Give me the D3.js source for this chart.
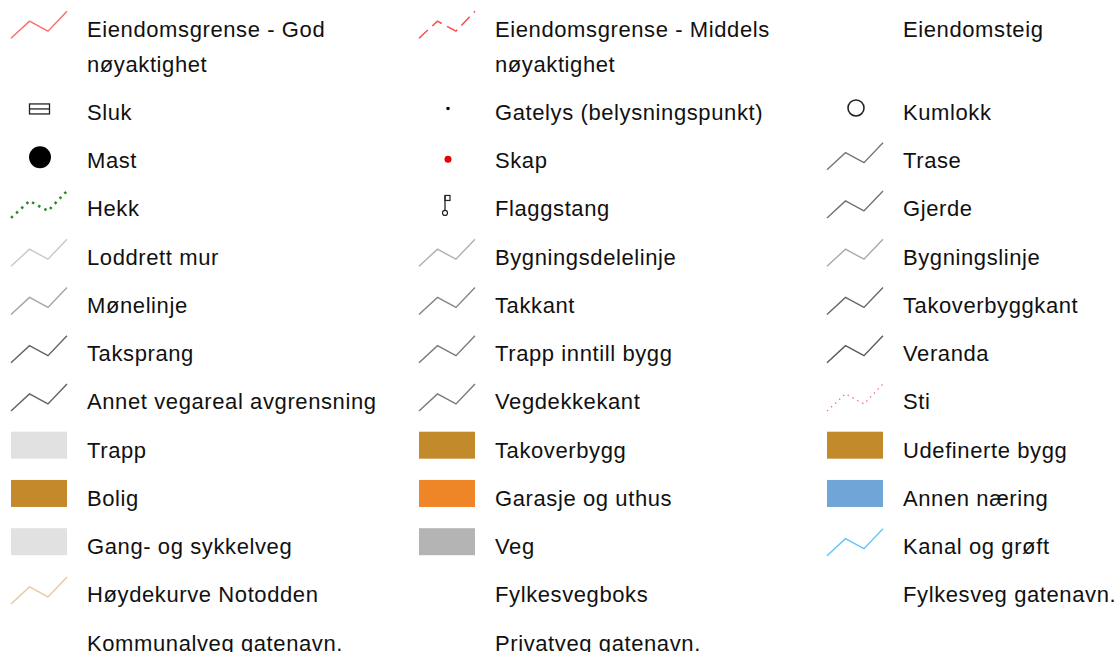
<!DOCTYPE html>
<meta charset="utf-8">
<style>
html, body { margin: 0; padding: 0; background: #fff; }
svg { display: block; }
.label { font-family: "Liberation Sans", Arial, Helvetica, sans-serif; font-size: 22px; letter-spacing: 0.6px; fill: #111; }
</style>
<svg id="legend"></svg>
<script src="https://cdn.jsdelivr.net/npm/d3@7"></script>
<script>

var width = 1118;
var height = 652;

// legend entries, read row by row (three per row)
var labels = [
  'Eiendomsgrense - God nøyaktighet', 'Eiendomsgrense - Middels nøyaktighet', 'Eiendomsteig',
  'Sluk', 'Gatelys (belysningspunkt)', 'Kumlokk',
  'Mast', 'Skap', 'Trase',
  'Hekk', 'Flaggstang', 'Gjerde',
  'Loddrett mur', 'Bygningsdelelinje', 'Bygningslinje',
  'Mønelinje', 'Takkant', 'Takoverbyggkant',
  'Taksprang', 'Trapp inntill bygg', 'Veranda',
  'Annet vegareal avgrensning', 'Vegdekkekant', 'Sti',
  'Trapp', 'Takoverbygg', 'Udefinerte bygg',
  'Bolig', 'Garasje og uthus', 'Annen næring',
  'Gang- og sykkelveg', 'Veg', 'Kanal og grøft',
  'Høydekurve Notodden', 'Fylkesvegboks', 'Fylkesveg gatenavn.',
  'Kommunalveg gatenavn.', 'Privatveg gatenavn.'
];

var kinds = [
  'line', 'line', 'none',
  'sluk', 'gatelys', 'kumlokk',
  'mast', 'skap', 'line',
  'line', 'flagg', 'line',
  'line', 'line', 'line',
  'line', 'line', 'line',
  'line', 'line', 'line',
  'line', 'line', 'line',
  'rect', 'rect', 'rect',
  'rect', 'rect', 'rect',
  'rect', 'rect', 'line',
  'line', 'none', 'none',
  'none', 'none'
];

var symbolColors = [
  '#ff6a6a', '#ff4a4a', null,
  '#222', '#000', '#222',
  '#000', '#ee0000', '#777777',
  '#2a8a2a', '#222', '#727272',
  '#c8c8c8', '#b0b0b0', '#aaaaaa',
  '#a4a4a4', '#858585', '#686868',
  '#646464', '#7a7a7a', '#5a5a5a',
  '#626262', '#7a7a7a', '#f07585',
  '#e1e1e1', '#c38a2c', '#c38a2c',
  '#c3892a', '#ee8627', '#70a5d8',
  '#e1e1e1', '#b4b4b4', '#5cc6ff',
  '#e8c9a0', null, null,
  null, null
];

// dashed / dotted line entries
var dashStyles = {
  'Eiendomsgrense - Middels nøyaktighet': {dash: '12,6', w: 1.5},
  'Hekk': {dash: '2.5,4.5', w: 2.5},
  'Sti': {dash: '1.5,4', w: 1.3}
};

// zigzag glyph used for line entries (unit box)
var zigzag = [[0, 0], [0.33, 0.63], [0.66, 0.26], [1, 1]];

var nCols = 3;
var col = d3.scalePoint().domain(d3.range(nCols)).range([0, 816]);
var textX = 87;
var rowStep = 48.25;
var lineStep = 35;
var maxTextWidth = 320;

var svg = d3.select('#legend')
  .attr('width', width)
  .attr('height', height);

var items = labels.map(function (l, i) {
  return {label: l, kind: kinds[i], color: symbolColors[i], col: i % nCols, row: Math.floor(i / nCols)};
});

var g = svg.selectAll('g.item')
  .data(items)
  .enter().append('g')
  .attr('class', 'item');

// text first, wrapped, to know the height of each row
var text = g.append('text')
  .attr('class', 'label')
  .attr('x', function (d) { return col(d.col) + textX; });

text.each(function (d) {
  var t = d3.select(this);
  var words = d.label.split(' ');
  var lines = [];
  var cur = [];
  var probe = t.append('tspan');
  words.forEach(function (w) {
    var test = cur.concat([w]).join(' ');
    probe.text(test);
    if (probe.node().getComputedTextLength() > maxTextWidth && cur.length) {
      lines.push(cur.join(' '));
      cur = [w];
    } else {
      cur.push(w);
    }
  });
  lines.push(cur.join(' '));
  probe.remove();
  d.lines = lines;
});

var nRows = d3.max(items, function (d) { return d.row; }) + 1;
var baselines = [];
var y = 36.7;
for (var r = 0; r < nRows; r++) {
  baselines.push(y);
  var nLines = d3.max(items.filter(function (d) { return d.row === r; }), function (d) { return d.lines.length; });
  y += rowStep + (nLines - 1) * lineStep;
}
items.forEach(function (d) { d.base = baselines[d.row]; d.x0 = col(d.col); });

text.attr('y', function (d) { return d.base; })
  .selectAll('tspan')
  .data(function (d) { return d.lines.map(function (l, k) { return {t: l, k: k, x: d.x0 + textX, base: d.base}; }); })
  .enter().append('tspan')
  .attr('x', function (d) { return d.x; })
  .attr('y', function (d) { return d.base + d.k * lineStep; })
  .text(function (d) { return d.t; });

// symbols
g.each(function (d) {
  var s = d3.select(this);
  var x0 = d.x0, b = d.base;
  if (d.kind === 'line') {
    var sx = d3.scaleLinear().domain([0, 1]).range([x0 + 11, x0 + 67]);
    var sy = d3.scaleLinear().domain([0, 1]).range([b + 1.5, b - 25.5]);
    var line = d3.line().x(function (p) { return sx(p[0]); }).y(function (p) { return sy(p[1]); });
    var ds = dashStyles[d.label];
    s.append('path')
      .attr('d', line(zigzag))
      .attr('fill', 'none')
      .attr('stroke', d.color)
      .attr('stroke-width', ds ? ds.w : 1.4)
      .attr('stroke-dasharray', ds ? ds.dash : null);
  } else if (d.kind === 'rect') {
    s.append('rect')
      .attr('x', x0 + 11).attr('y', b - 26)
      .attr('width', 56).attr('height', 27)
      .attr('fill', d.color);
  } else if (d.kind === 'sluk') {
    s.append('rect')
      .attr('x', x0 + 29.5).attr('y', b - 16)
      .attr('width', 20).attr('height', 10)
      .attr('fill', 'none').attr('stroke', d.color).attr('stroke-width', 1.3);
    s.append('line')
      .attr('x1', x0 + 29.5).attr('x2', x0 + 49.5)
      .attr('y1', b - 11).attr('y2', b - 11)
      .attr('stroke', d.color).attr('stroke-width', 1.3);
  } else if (d.kind === 'gatelys') {
    s.append('rect')
      .attr('x', x0 + 38.5).attr('y', b - 13)
      .attr('width', 3).attr('height', 3)
      .attr('fill', d.color);
  } else if (d.kind === 'kumlokk') {
    s.append('circle')
      .attr('cx', x0 + 40).attr('cy', b - 12).attr('r', 8)
      .attr('fill', 'none').attr('stroke', d.color).attr('stroke-width', 1.6);
  } else if (d.kind === 'mast') {
    s.append('circle')
      .attr('cx', x0 + 40).attr('cy', b - 11).attr('r', 11)
      .attr('fill', d.color);
  } else if (d.kind === 'skap') {
    s.append('circle')
      .attr('cx', x0 + 40).attr('cy', b - 9).attr('r', 3.5)
      .attr('fill', d.color);
  } else if (d.kind === 'flagg') {
    s.append('line')
      .attr('x1', x0 + 37).attr('x2', x0 + 37)
      .attr('y1', b - 21).attr('y2', b - 6)
      .attr('stroke', d.color).attr('stroke-width', 1.3);
    s.append('rect')
      .attr('x', x0 + 37).attr('y', b - 21)
      .attr('width', 5).attr('height', 5)
      .attr('fill', 'none').attr('stroke', d.color).attr('stroke-width', 1.2);
    s.append('circle')
      .attr('cx', x0 + 37).attr('cy', b - 3.5).attr('r', 2.5)
      .attr('fill', 'none').attr('stroke', d.color).attr('stroke-width', 1.2);
  }
});

</script>
